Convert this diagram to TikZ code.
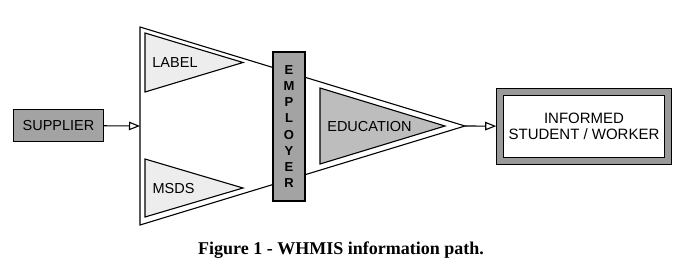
\documentclass[tikz,border=0pt]{standalone}
\usepackage{fontspec}
\setmainfont{Liberation Serif}
\newfontfamily\arialfont{Liberation Sans}
\usepackage{tikz}
\usetikzlibrary{arrows.meta,positioning}
\definecolor{boxgray}{gray}{0.64}
\definecolor{edugray}{gray}{0.74}
\definecolor{sheetgray}{gray}{0.93}
\definecolor{bandgray}{gray}{0.60}
\newcommand{\sansfont}[1]{\arialfont\fontsize{#1}{#1}\selectfont}

\begin{document}
\begin{tikzpicture}[x=1pt,y=-1pt,
  outline/.style={draw=black,line width=1.1pt},
  graybox/.style={outline,fill=boxgray,inner sep=0pt},
  tag/.style={inner sep=0pt,font=\sansfont{14.5}},
  flow/.style={-{Triangle[open,length=11pt,width=8.5pt]},line width=1.1pt}]
  \useasboundingbox (0,0) rectangle (700,276);
  % Funnel
  \coordinate (funnel in) at (140,126);
  \coordinate (funnel tip) at (465,126);
  \draw[outline] (140,27) -- (funnel tip) -- (140,225) -- cycle;
  % Sources
  \draw[outline,fill=sheetgray] (145,33) -- (243,62.5) -- (145,92) -- cycle;
  \node[tag] (label text) at (175,63) {LABEL};
  \draw[outline,fill=sheetgray] (145,159) -- (243,188) -- (145,217) -- cycle;
  \node[tag] (msds text) at (173.5,189) {MSDS};
  % Education
  \draw[outline,fill=edugray] (320,88) -- (445,126) -- (320,164) -- cycle;
  \node[tag] (education text) at (369.5,127) {EDUCATION};
  % Employer
  \node[graybox,minimum width=32pt,minimum height=149pt,align=center,
    font=\arialfont\bfseries\fontsize{13}{16.2}\selectfont]
    (employer) at (289,126.5) {E\\M\\P\\L\\O\\Y\\E\\R};
  % Supplier
  \node[graybox,minimum width=90pt,minimum height=32pt,font=\sansfont{14.5}]
    (supplier) at (58.5,125.5) {SUPPLIER};
  % Informed
  \node[draw=black,line width=0.8pt,double=bandgray,double distance=6pt,
    fill=white,outer sep=3.8pt,minimum width=168pt,minimum height=69pt,
    align=center,font=\arialfont\fontsize{15}{15.5}\selectfont]
    (informed) at (584,126.5) {INFORMED\\STUDENT / WORKER};
  % Flow
  \draw[flow] (supplier) -- (funnel in);
  \draw[flow] (funnel tip) -- (informed);
  % Caption
  \node[anchor=base,font=\bfseries\fontsize{18}{20}\selectfont]
    (caption) at (341,254) {Figure 1 - WHMIS information path.};
\end{tikzpicture}
\end{document}
